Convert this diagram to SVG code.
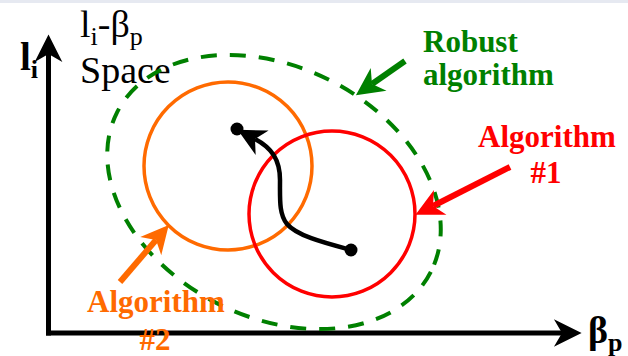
<svg xmlns="http://www.w3.org/2000/svg" width="628" height="356" viewBox="0 0 628 356">
  <style>
    .serif { font-family: "Liberation Serif", "Times New Roman", serif; }
    .lbl { font-family: "Liberation Serif", "Times New Roman", serif; font-weight: bold; font-size: 31px; }
    .axis { stroke: #000; stroke-width: 5; fill: none; }
    .arr { stroke-width: 6; fill: none; }
  </style>
  <defs>
    <marker id="hBlack" markerUnits="userSpaceOnUse" orient="auto" markerWidth="30" markerHeight="30" viewBox="-8 -13 26 26" refX="0" refY="0" overflow="visible">
      <path d="M17,0 L-7,-12 L0,0 L-7,12 Z" fill="#000"/>
    </marker>
    <marker id="hGreen" markerUnits="userSpaceOnUse" orient="auto" markerWidth="30" markerHeight="30" viewBox="-8 -13 26 26" refX="0" refY="0" overflow="visible">
      <path d="M17,0 L-7,-12 L0,0 L-7,12 Z" fill="#008000"/>
    </marker>
    <marker id="hRed" markerUnits="userSpaceOnUse" orient="auto" markerWidth="30" markerHeight="30" viewBox="-8 -13 26 26" refX="0" refY="0" overflow="visible">
      <path d="M17,0 L-7,-12 L0,0 L-7,12 Z" fill="#FF0000"/>
    </marker>
    <marker id="hOrange" markerUnits="userSpaceOnUse" orient="auto" markerWidth="30" markerHeight="30" viewBox="-8 -13 26 26" refX="0" refY="0" overflow="visible">
      <path d="M17,0 L-7,-12 L0,0 L-7,12 Z" fill="#FF6A00"/>
    </marker>
  </defs>

  <rect x="0" y="0" width="628" height="356" fill="#FFFFFF"/>
  <rect x="0" y="0" width="628" height="3" fill="#E6E9F1"/>

  <g id="space-title">
    <text class="serif" x="80" y="37" font-size="38" fill="#000">l<tspan font-size="26" dy="8">i</tspan><tspan dy="-8">-β</tspan><tspan font-size="26" dy="8">p</tspan></text>
    <text class="serif" x="80" y="83" font-size="38" fill="#000">Space</text>
  </g>

  <g id="axes">
    <line class="axis" x1="48.5" y1="335.5" x2="48.5" y2="54" marker-end="url(#hBlack)"/>
    <line class="axis" x1="46" y1="333" x2="562" y2="333" marker-end="url(#hBlack)"/>
    <text class="serif" x="20" y="70" font-size="39" font-weight="bold" fill="#000">l<tspan font-size="26" dy="8">i</tspan></text>
    <text class="serif" x="588" y="343" font-size="38" font-weight="bold" fill="#000">β<tspan font-size="26" dy="8">p</tspan></text>
  </g>

  <g id="robust-region">
    <ellipse cx="274" cy="192" rx="176" ry="125" transform="rotate(27 274 192)" fill="none" stroke="#008000" stroke-width="4" stroke-dasharray="16 13"/>
  </g>

  <g id="algorithm2-region">
    <circle cx="228" cy="166" r="84" fill="none" stroke="#FF6A00" stroke-width="3.5"/>
  </g>

  <g id="algorithm1-region">
    <circle cx="332" cy="214" r="83" fill="none" stroke="#FF0000" stroke-width="3.5"/>
  </g>

  <g id="trajectory">
    <path d="M351,250 C325,243 297,236 287,224 C279,214 280,200 280,180 C280,160 272,148 255,139" fill="none" stroke="#000" stroke-width="4.5" marker-end="url(#hBlack)"/>
    <circle cx="351" cy="250" r="6.5" fill="#000"/>
    <circle cx="237" cy="129" r="6.5" fill="#000"/>
  </g>

  <g id="connectors">
    <line class="arr" x1="405" y1="61" x2="372" y2="84" stroke="#008000" marker-end="url(#hGreen)"/>
    <line class="arr" x1="510" y1="167" x2="433" y2="206" stroke="#FF0000" marker-end="url(#hRed)"/>
    <line class="arr" x1="120" y1="282" x2="156" y2="240" stroke="#FF6A00" marker-end="url(#hOrange)"/>
  </g>

  <g id="label-robust">
    <text class="lbl" x="423" y="52" fill="#008000">Robust</text>
    <text class="lbl" x="423" y="85" fill="#008000">algorithm</text>
  </g>

  <g id="label-algorithm1">
    <text class="lbl" x="547" y="147" text-anchor="middle" fill="#FF0000">Algorithm</text>
    <text class="lbl" x="546" y="183" text-anchor="middle" fill="#FF0000">#1</text>
  </g>

  <g id="label-algorithm2">
    <text class="lbl" x="156" y="312" text-anchor="middle" fill="#FF6A00">Algorithm</text>
    <text class="lbl" x="155" y="350" text-anchor="middle" fill="#FF6A00">#2</text>
  </g>
</svg>
